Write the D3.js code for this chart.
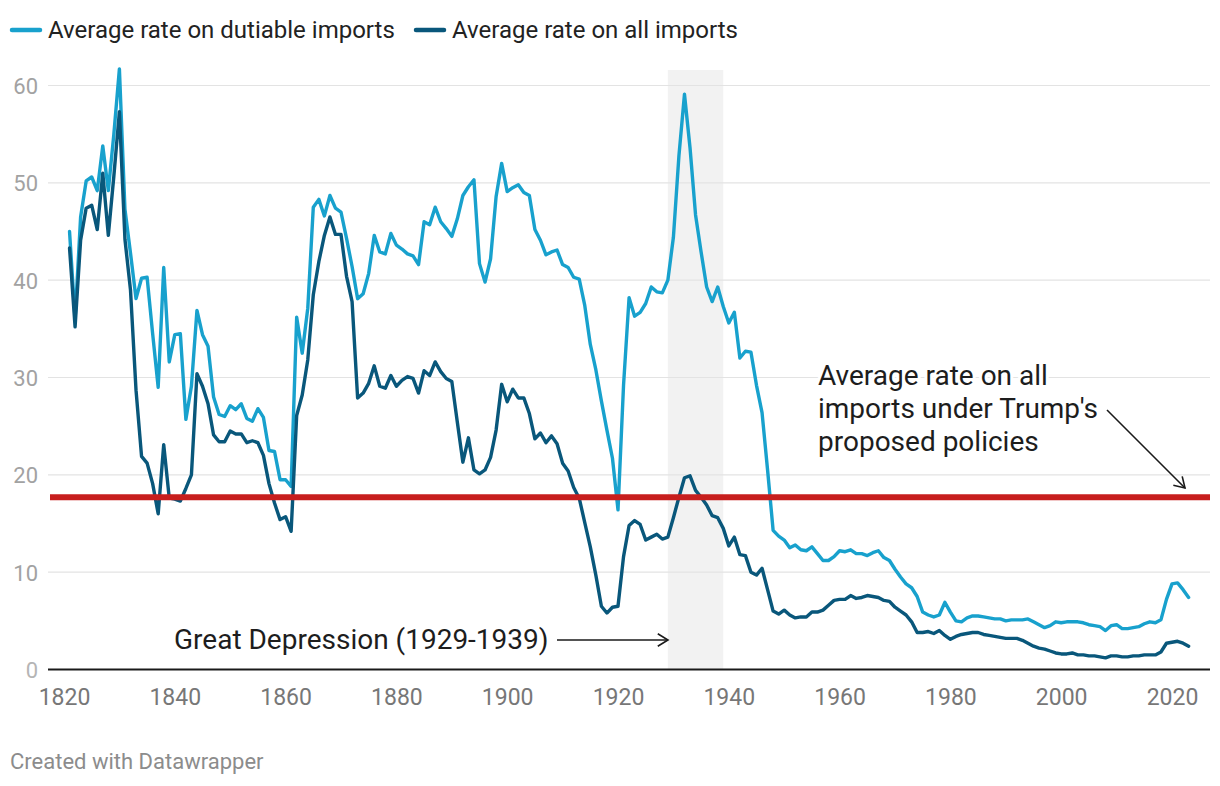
<!DOCTYPE html>
<html>
<head>
<meta charset="utf-8">
<script src="https://cdn.jsdelivr.net/npm/d3@7"></script>
<style>
  html, body { margin: 0; padding: 0; background: #fff; }
  svg { display: block; font-family: Roboto, "Noto Sans", sans-serif; }
</style>
</head>
<body>
<svg id="chart" width="1220" height="786"></svg>
<script>
// ---- data ----
const startYear = 1821;
const dutiable = [
  45.0, 36.0, 46.5, 50.2, 50.6, 49.2, 53.8, 49.2, 55.0, 61.7,
  47.3, 42.8, 38.1, 40.2, 40.3, 34.5, 29.0, 41.3, 31.6, 34.4,
  34.5, 25.7, 29.1, 36.9, 34.4, 33.2, 28.0, 26.2, 26.0, 27.1,
  26.7, 27.3, 25.8, 25.5, 26.8, 25.9, 22.5, 22.4, 19.5, 19.5,
  18.8, 36.2, 32.5, 37.1, 47.5, 48.3, 46.6, 48.7, 47.4, 47.0,
  44.3, 41.4, 38.1, 38.6, 40.7, 44.6, 42.9, 42.7, 44.8, 43.6,
  43.2, 42.7, 42.5, 41.6, 46.0, 45.7, 47.5, 46.0, 45.3, 44.5,
  46.3, 48.7, 49.6, 50.3, 41.7, 39.8, 42.2, 48.6, 52.0, 49.1,
  49.5, 49.8, 49.0, 48.7, 45.2, 44.1, 42.6, 42.9, 43.1, 41.6,
  41.3, 40.3, 40.1, 37.4, 33.4, 30.8, 27.6, 24.6, 21.7, 16.4,
  29.2, 38.2, 36.3, 36.7, 37.6, 39.3, 38.8, 38.7, 40.0, 44.4,
  52.8, 59.1, 53.6, 46.7, 42.9, 39.3, 37.8, 39.3, 37.3, 35.6,
  36.7, 32.0, 32.7, 32.6, 29.2, 26.4, 20.5, 14.3, 13.7, 13.3,
  12.5, 12.8, 12.3, 12.2, 12.6, 11.9, 11.2, 11.2, 11.6, 12.2,
  12.1, 12.3, 11.9, 11.9, 11.7, 12.0, 12.2, 11.5, 11.2, 10.3,
  9.5, 8.8, 8.4, 7.5, 5.9, 5.6, 5.4, 5.6, 6.9, 5.9,
  5.0, 4.9, 5.3, 5.5, 5.5, 5.4, 5.3, 5.2, 5.2, 5.0,
  5.1, 5.1, 5.1, 5.2, 4.9, 4.6, 4.3, 4.5, 4.9, 4.8,
  4.9, 4.9, 4.9, 4.8, 4.6, 4.5, 4.4, 4.0, 4.5, 4.6,
  4.2, 4.2, 4.3, 4.4, 4.7, 4.9, 4.8, 5.1, 7.2, 8.8,
  8.9, 8.2, 7.4
];
const allImports = [
  43.3, 35.2, 44.1, 47.4, 47.7, 45.2, 51.0, 44.6, 50.7, 57.3,
  44.2, 39.0, 28.7, 21.9, 21.2, 19.1, 16.0, 23.1, 17.6, 17.5,
  17.3, 18.6, 20.0, 30.4, 29.1, 27.3, 24.1, 23.4, 23.4, 24.5,
  24.2, 24.2, 23.3, 23.5, 23.3, 22.0, 19.1, 17.1, 15.4, 15.7,
  14.2, 26.1, 28.2, 31.8, 38.5, 41.9, 44.6, 46.5, 44.7, 44.7,
  40.4, 37.8, 27.9, 28.4, 29.4, 31.2, 29.1, 28.9, 30.2, 29.1,
  29.7, 30.1, 29.9, 28.4, 30.7, 30.2, 31.6, 30.6, 29.9, 29.6,
  25.4, 21.3, 23.8, 20.5, 20.1, 20.5, 21.8, 24.6, 29.3, 27.5,
  28.8, 27.9, 27.9, 26.3, 23.7, 24.3, 23.3, 24.0, 23.2, 21.2,
  20.4, 18.7, 17.6, 15.1, 12.6, 9.7, 6.5, 5.8, 6.4, 6.5,
  11.6, 14.8, 15.3, 14.9, 13.3, 13.6, 13.9, 13.4, 13.6, 15.6,
  17.7, 19.7, 19.9, 18.4, 17.7, 16.9, 15.8, 15.6, 14.5, 12.7,
  13.6, 11.8, 11.7, 10.0, 9.7, 10.4, 8.2, 6.0, 5.7, 6.1,
  5.6, 5.3, 5.4, 5.4, 5.9, 5.9, 6.1, 6.6, 7.1, 7.2,
  7.2, 7.6, 7.3, 7.4, 7.6, 7.5, 7.4, 7.1, 7.0, 6.4,
  6.0, 5.6, 4.9, 3.8, 3.8, 3.9, 3.7, 4.0, 3.5, 3.1,
  3.4, 3.6, 3.7, 3.8, 3.8, 3.6, 3.5, 3.4, 3.3, 3.2,
  3.2, 3.2, 3.0, 2.7, 2.4, 2.2, 2.1, 1.9, 1.7, 1.6,
  1.6, 1.7, 1.5, 1.5, 1.4, 1.4, 1.3, 1.2, 1.4, 1.4,
  1.3, 1.3, 1.4, 1.4, 1.5, 1.5, 1.5, 1.8, 2.7, 2.8,
  2.9, 2.7, 2.4
];
const years = dutiable.map((_, i) => startYear + i);
const xTicks = [1820, 1840, 1860, 1880, 1900, 1920, 1940, 1960, 1980, 2000, 2020];
const yTicks = [0, 10, 20, 30, 40, 50, 60];
const seriesNames = ["Average rate on dutiable imports", "Average rate on all imports"];
const trumpRate = 17.7;
const depression = [1929, 1939];

// ---- layout ----
const svg = d3.select("#chart");
const plotLeft = 48, plotRight = 1210;
const x = d3.scaleLinear().domain([1820, 2020]).range([64, 1172]);
const y = d3.scaleLinear().domain([0, 60]).range([669.5, 85.5]);
const colLight = "#18a1cd", colDark = "#09577b", colRed = "#c71e1d";

// depression band
svg.append("rect")
  .attr("x", x(depression[0])).attr("width", x(depression[1]) - x(depression[0]))
  .attr("y", 70).attr("height", y(0) - 70)
  .attr("fill", "#f2f2f2");

// gridlines
svg.append("g").selectAll("line").data(yTicks.filter(d => d > 0)).join("line")
  .attr("x1", plotLeft).attr("x2", plotRight)
  .attr("y1", d => y(d)).attr("y2", d => y(d))
  .attr("stroke", "#e3e3e3").attr("stroke-width", 1.2);

// y axis labels
const yAxis = svg.append("g").attr("transform", "translate(38,0)")
  .call(d3.axisLeft(y).tickValues(yTicks).tickSize(0).tickPadding(0));
yAxis.select(".domain").remove();
yAxis.selectAll("text")
  .attr("font-family", "Roboto").attr("font-size", 22)
  .attr("fill", d => d === 0 ? "#b5b5b5" : "#a2a2a2")
  .attr("dy", "0.36em");

// x axis labels
const xAxis = svg.append("g").attr("transform", `translate(0,${y(0)})`)
  .call(d3.axisBottom(x).tickValues(xTicks).tickFormat(d3.format("d")).tickSize(0).tickPadding(0));
xAxis.select(".domain").remove();
xAxis.selectAll("text")
  .attr("font-family", "Roboto").attr("font-size", 23)
  .attr("fill", "#777").attr("dy", null).attr("y", 35.5);

// lines
const line = d3.line().x((d, i) => x(years[i])).y(d => y(d));
svg.append("path").datum(dutiable).attr("d", line)
  .attr("fill", "none").attr("stroke", colLight).attr("stroke-width", 3.4)
  .attr("stroke-linejoin", "round").attr("stroke-linecap", "round");
svg.append("path").datum(allImports).attr("d", line)
  .attr("fill", "none").attr("stroke", colDark).attr("stroke-width", 3.4)
  .attr("stroke-linejoin", "round").attr("stroke-linecap", "round");

// baseline
svg.append("line").attr("x1", plotLeft).attr("x2", plotRight)
  .attr("y1", y(0)).attr("y2", y(0)).attr("stroke", "#1a1a1a").attr("stroke-width", 2);

// red reference line
svg.append("line").attr("x1", 50).attr("x2", plotRight)
  .attr("y1", y(trumpRate)).attr("y2", y(trumpRate))
  .attr("stroke", colRed).attr("stroke-width", 6);

// legend
const legend = svg.append("g");
const legendItems = [
  { name: seriesNames[0], color: colLight, x: 11 },
  { name: seriesNames[1], color: colDark, x: 415 }
];
legendItems.forEach(it => {
  legend.append("line").attr("x1", it.x + 1).attr("x2", it.x + 29)
    .attr("y1", 30).attr("y2", 30)
    .attr("stroke", it.color).attr("stroke-width", 4.5).attr("stroke-linecap", "round");
  legend.append("text").attr("x", it.x + 37).attr("y", 37.5)
    .attr("font-size", 24).attr("fill", "#222").text(it.name);
});

// arrow helper
function arrow(x1, y1, x2, y2) {
  const g = svg.append("g").attr("stroke", "#1a1a1a").attr("stroke-width", 1.6).attr("fill", "none");
  g.append("line").attr("x1", x1).attr("y1", y1).attr("x2", x2).attr("y2", y2);
  const a = Math.atan2(y2 - y1, x2 - x1), L = 12, w = 0.55;
  g.append("path").attr("d",
    `M${x2 - L * Math.cos(a - w)},${y2 - L * Math.sin(a - w)}L${x2},${y2}L${x2 - L * Math.cos(a + w)},${y2 - L * Math.sin(a + w)}`)
    .attr("stroke-linejoin", "miter");
}

// Great Depression annotation
svg.append("text").attr("x", 174).attr("y", 649)
  .attr("font-size", 28).attr("fill", "#1d1d1d")
  .attr("stroke", "#fff").attr("stroke-width", 5).attr("paint-order", "stroke")
  .text("Great Depression (1929-1939)");
arrow(557, 640, 668, 640);

// Trump annotation
const tLines = ["Average rate on all", "imports under Trump's", "proposed policies"];
svg.append("g").selectAll("text").data(tLines).join("text")
  .attr("x", 818).attr("y", (d, i) => 385 + i * 33)
  .attr("font-size", 28).attr("fill", "#1d1d1d")
  .attr("stroke", "#fff").attr("stroke-width", 6).attr("paint-order", "stroke")
  .text(d => d);
arrow(1107, 410, 1185, 488);

// footer
svg.append("text").attr("x", 10).attr("y", 769)
  .attr("font-size", 22).attr("fill", "#8c8c8c")
  .text("Created with Datawrapper");
</script>
</body>
</html>
